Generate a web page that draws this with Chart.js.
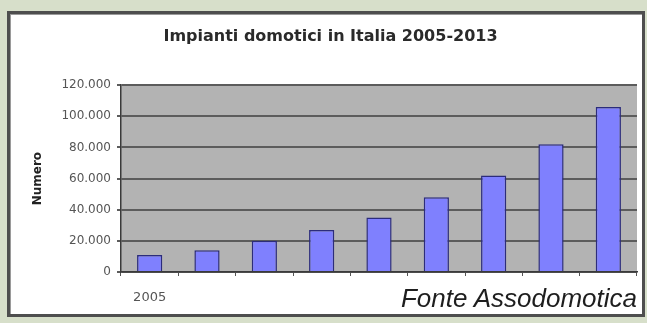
<!DOCTYPE html>
<html lang="it">
<head>
<meta charset="utf-8">
<title>Impianti domotici in Italia 2005-2013</title>
<script src="https://cdn.jsdelivr.net/npm/chart.js@4"></script>
<style>
  html, body { margin: 0; padding: 0; background: #d7dfca; }
  #wrap { position: relative; width: 647px; height: 323px; overflow: hidden; }
  #frame {
    position: absolute; left: 7px; top: 11px; width: 632px; height: 300px;
    border: 3px solid #4e4e4e; background: #fff;
    box-shadow: inset 1px 1px 0 #9a9a9a;
  }
  #chart { position: absolute; left: 0; top: 0; }
  #fonte {
    position: absolute; right: 10px; top: 285px;
    font: italic 26px "Liberation Sans", Arial, sans-serif; line-height: 26px;
    color: #1e1e1e; white-space: nowrap;
  }
</style>
</head>
<body>
<div id="wrap">
  <div id="frame"></div>
  <canvas id="chart" width="647" height="323"></canvas>
  <div id="fonte">Fonte Assodomotica</div>
</div>
<script>
// Impianti installati per anno (stima)
const anni = ["2005", "2006", "2007", "2008", "2009", "2010", "2011", "2012", "2013"];
const impianti = [11000, 14000, 20000, 27000, 35000, 48000, 62000, 82000, 106000];
const etichetteAnni = ["2005", "", "", "", "", "", "", "", ""];
const assiY = { min: 0, max: 120000, passo: 20000 };

// formato italiano: 120000 -> "120.000"
function formatNumero(v) {
    return String(v).replace(/\B(?=(\d{3})+(?!\d))/g, ".");
}

// sfondo grigio dell'area del grafico
const sfondoArea = {
    id: "sfondoArea",
    beforeDraw(chart) {
        const { ctx, chartArea: a } = chart;
        ctx.save();
        ctx.fillStyle = "#b3b3b3";
        ctx.fillRect(a.left, a.top, a.right - a.left, a.bottom - a.top);
        ctx.restore();
    }
};

const font = "'DejaVu Sans', Verdana, sans-serif";

new Chart(document.getElementById("chart"), {
    type: "bar",
    data: {
        labels: anni,
        datasets: [{
            label: "Numero",
            data: impianti,
            backgroundColor: "#7f80fe",
            borderColor: "#2c2c7c",
            borderWidth: 1.5,
            categoryPercentage: 1,
            barPercentage: 0.44
        }]
    },
    plugins: [sfondoArea],
    options: {
        responsive: false,
        animation: false,
        layout: { padding: { top: 0, right: 10, bottom: 0, left: 24 } },
        plugins: {
            legend: { display: false },
            tooltip: { enabled: false },
            title: {
                display: true,
                text: "Impianti domotici in Italia 2005-2013",
                color: "#2a2a2a",
                font: { family: font, size: 16, weight: "bold" },
                padding: { top: 27, bottom: 39 }
            }
        },
        scales: {
            x: {
                afterFit(scale) { scale.height = 51; },
                border: { display: true, color: "#3a3a3a", width: 1.5 },
                grid: { offset: true, drawOnChartArea: false, tickLength: 4, color: "#555" },
                ticks: {
                    color: "#555",
                    font: { family: font, size: 13 },
                    padding: 14,
                    maxRotation: 0,
                    autoSkip: false,
                    callback: (v, i) => etichetteAnni[i]
                }
            },
            y: {
                min: assiY.min,
                max: assiY.max,
                afterFit(scale) { scale.width = 97; },
                border: { display: true, color: "#3a3a3a", width: 1.5 },
                grid: { color: "#5c5c5c", lineWidth: 2, tickLength: 4 },
                ticks: {
                    stepSize: assiY.passo,
                    color: "#555",
                    font: { family: font, size: 12 },
                    padding: 6,
                    callback: v => formatNumero(v)
                },
                title: {
                    display: true,
                    text: "Numero",
                    color: "#222",
                    font: { family: font, size: 12, weight: "bold" },
                    padding: { top: 7, bottom: 0 }
                }
            }
        }
    }
});
</script>
</body>
</html>
